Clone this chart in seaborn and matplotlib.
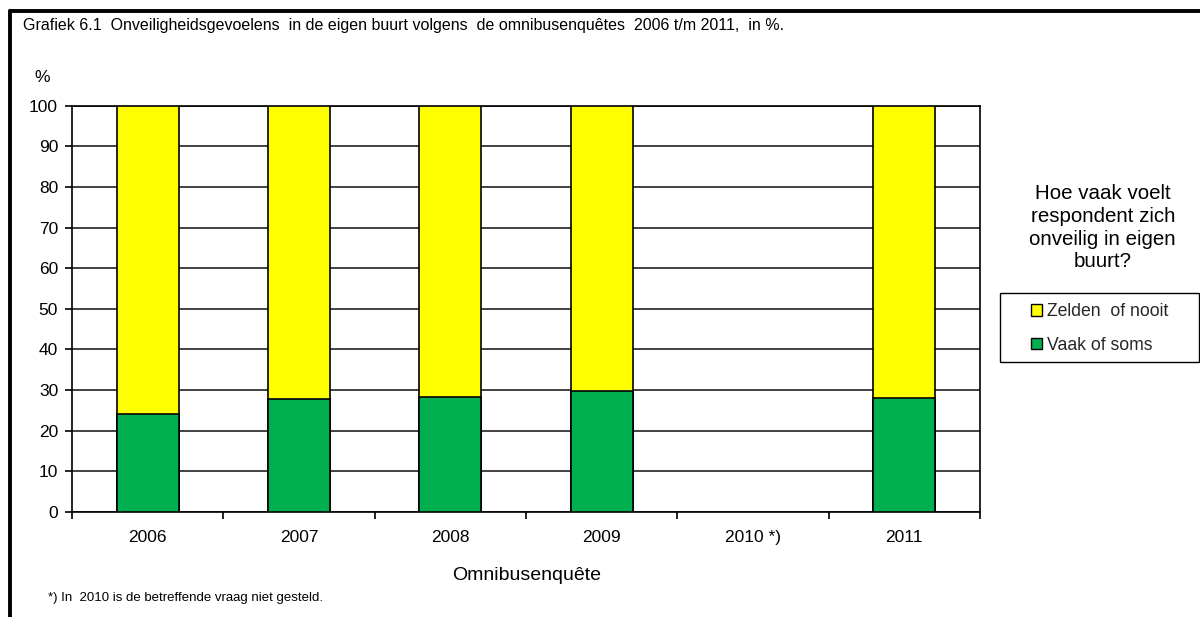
import numpy as np
import pandas as pd
import matplotlib
matplotlib.use("Agg")
import matplotlib.pyplot as plt
from matplotlib.lines import Line2D
from matplotlib.patches import Patch, Rectangle
import seaborn as sns

categories = ["2006", "2007", "2008", "2009", "2010 *)", "2011"]
vaak_of_soms = [24.0, 27.9, 28.2, 29.7, np.nan, 28.0]
zelden_of_nooit = [76.0, 72.1, 71.8, 70.3, np.nan, 72.0]
series_names = ["Zelden  of nooit", "Vaak of soms"]
colors = ["#FFFF00", "#00B050"]

sns.set_theme(style="white")
plt.rcParams['font.family'] = ['Liberation Sans', 'DejaVu Sans']

df = pd.DataFrame({"cat": categories, "green": vaak_of_soms, "yellow": zelden_of_nooit})
df["total"] = df["green"] + df["yellow"]

fig = plt.figure(figsize=(12, 6.17), dpi=100)
ax = fig.add_axes([0.06, 0.1702, 0.7567, 0.6585])

sns.barplot(data=df, x="cat", y="total", order=categories, color=colors[0],
            width=0.41, edgecolor="black", linewidth=1.2, saturation=1, ax=ax, zorder=3)
sns.barplot(data=df, x="cat", y="green", order=categories, color=colors[1],
            width=0.41, edgecolor="black", linewidth=1.2, saturation=1, ax=ax, zorder=4)

ax.set_ylim(0, 100)
ax.set_xlim(-0.5, len(categories) - 0.5)
ax.set_yticks(np.arange(0, 101, 10))
ax.yaxis.grid(True, color="#222222", linewidth=1.2, zorder=0)
ax.set_axisbelow(True)
for s in ax.spines.values():
    s.set_visible(True)
    s.set_color("black")
    s.set_linewidth(1.2)

ax.set_xticks(np.arange(len(categories)))
ax.set_xticklabels(categories)
ax.set_xticks(np.arange(-0.5, len(categories)), minor=True)
ax.tick_params(axis="x", which="major", length=0, pad=13, labelsize=12.5, colors="black")
ax.tick_params(axis="x", which="minor", length=5, width=1.2, direction="out", color="black", bottom=True)
ax.tick_params(axis="y", which="major", length=5, width=1.2, direction="out", color="black",
               left=True, labelsize=12.5, pad=5, labelcolor="black")
ax.set_xlabel("")
ax.set_ylabel("")

fig.text(0.019, 0.958, "Grafiek 6.1  Onveiligheidsgevoelens  in de eigen buurt volgens  de omnibusenquêtes  2006 t/m 2011,  in %.",
         fontsize=11.5, ha="left", va="center", color="black")
fig.text(0.029, 0.875, "%", fontsize=12.5, ha="left", va="center", color="black")
fig.text(0.439, 0.068, "Omnibusenquête", fontsize=14, ha="center", va="center", color="black")
fig.text(0.040, 0.030, "*) In  2010 is de betreffende vraag niet gesteld.", fontsize=9.5,
         ha="left", va="center", color="black")

fig.text(0.919, 0.631, "Hoe vaak voelt\nrespondent zich\nonveilig in eigen\nbuurt?", fontsize=14.8,
         ha="center", va="center", color="black", linespacing=1.25)

# legend box
fig.add_artist(Rectangle((1000 / 1200, 1 - 362 / 617), 199 / 1200, 69 / 617,
                         transform=fig.transFigure, facecolor="none", edgecolor="black", linewidth=1))
handles = [Patch(facecolor=c, edgecolor="black", linewidth=1) for c in colors]
leg = fig.legend(handles, series_names, loc="center left", bbox_to_anchor=(1031 / 1200, 1 - 328.5 / 617),
                 frameon=False, fontsize=12.7, handlelength=0.62, handleheight=0.62,
                 handletextpad=0.28, labelspacing=0.92, borderpad=0, borderaxespad=0)

# outer frame lines (left and top)
fig.add_artist(Line2D([0.0083, 0.0083], [0.0, 0.982], transform=fig.transFigure, color="black", linewidth=2.8))
fig.add_artist(Line2D([0.0083, 1.0], [0.982, 0.982], transform=fig.transFigure, color="black", linewidth=2.8))

fig.savefig("out.png", dpi=100)
